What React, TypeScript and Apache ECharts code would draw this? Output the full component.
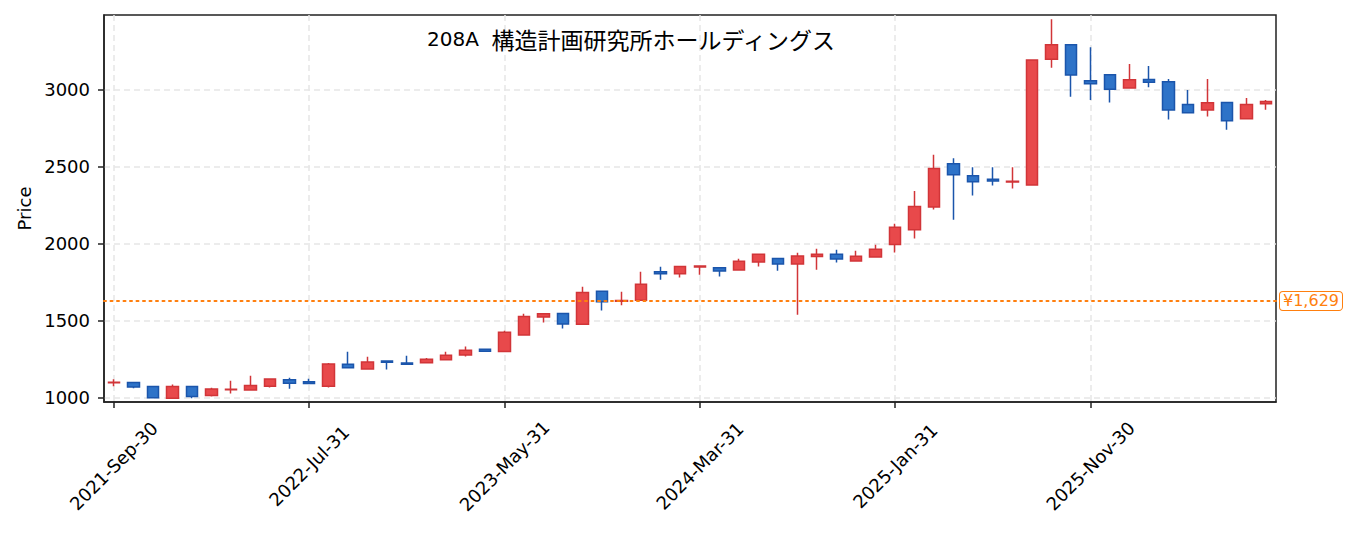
import React, { useEffect, useRef } from "react";
import * as echarts from "echarts";

const categories = [
  "2021-Sep-30", "2021-Oct-31", "2021-Nov-30", "2021-Dec-31",
  "2022-Jan-31", "2022-Feb-28", "2022-Mar-31", "2022-Apr-30", "2022-May-31", "2022-Jun-30",
  "2022-Jul-31", "2022-Aug-31", "2022-Sep-30", "2022-Oct-31", "2022-Nov-30", "2022-Dec-31",
  "2023-Jan-31", "2023-Feb-28", "2023-Mar-31", "2023-Apr-30", "2023-May-31", "2023-Jun-30",
  "2023-Jul-31", "2023-Aug-31", "2023-Sep-30", "2023-Oct-31", "2023-Nov-30", "2023-Dec-31",
  "2024-Jan-31", "2024-Feb-29", "2024-Mar-31", "2024-Apr-30", "2024-May-31", "2024-Jun-30",
  "2024-Jul-31", "2024-Aug-31", "2024-Sep-30", "2024-Oct-31", "2024-Nov-30", "2024-Dec-31",
  "2025-Jan-31", "2025-Feb-28", "2025-Mar-31", "2025-Apr-30", "2025-May-31", "2025-Jun-30",
  "2025-Jul-31", "2025-Aug-31", "2025-Sep-30", "2025-Oct-31", "2025-Nov-30", "2025-Dec-31",
  "2026-Jan-31", "2026-Feb-28", "2026-Mar-31", "2026-Apr-30", "2026-May-31", "2026-Jun-30",
  "2026-Jul-31", "2026-Aug-31",
];

const opens = [
  1097, 1098, 1073, 996, 1073, 1015, 1052, 1050, 1075, 1116,
  1103, 1075, 1217, 1187, 1238, 1225, 1227, 1247, 1277, 1314,
  1300, 1408, 1525, 1547, 1478, 1692, 1626, 1634, 1819, 1806,
  1850, 1845, 1830, 1882, 1904, 1869, 1917, 1932, 1889, 1914,
  1995, 2091, 2240, 2521, 2443, 2419, 2402, 2383, 3199, 3294,
  3060, 3099, 3013, 3068, 3054, 2905, 2870, 2918, 2812, 2910,
];
const closes = [
  1100, 1070, 1000, 1073, 1008, 1056, 1055, 1080, 1121, 1094,
  1092, 1219, 1195, 1232, 1230, 1218, 1250, 1276, 1309, 1301,
  1426, 1527, 1546, 1479, 1683, 1624, 1632, 1738, 1806, 1852,
  1856, 1824, 1887, 1932, 1869, 1920, 1932, 1902, 1919, 1964,
  2107, 2242, 2489, 2449, 2404, 2408, 2406, 3195, 3294, 3097,
  3040, 3005, 3067, 3050, 2870, 2852, 2917, 2799, 2905, 2925,
];
const lows = [
  1075, 1062, 998, 995, 996, 1008, 1028, 1050, 1066, 1058,
  1090, 1066, 1193, 1186, 1184, 1216, 1225, 1245, 1268, 1299,
  1298, 1405, 1489, 1450, 1477, 1567, 1600, 1633, 1766, 1781,
  1799, 1788, 1829, 1853, 1825, 1539, 1831, 1879, 1888, 1913,
  1944, 2034, 2223, 2156, 2314, 2379, 2359, 2381, 3145, 2956,
  2935, 2918, 3012, 3017, 2808, 2850, 2828, 2742, 2811, 2872,
];
const highs = [
  1120, 1100, 1075, 1085, 1075, 1065, 1110, 1143, 1122, 1130,
  1123, 1225, 1299, 1266, 1240, 1273, 1258, 1299, 1333, 1316,
  1435, 1545, 1548, 1548, 1721, 1694, 1688, 1818, 1851, 1854,
  1857, 1846, 1903, 1933, 1905, 1942, 1968, 1961, 1955, 1994,
  2130, 2344, 2578, 2556, 2498, 2498, 2498, 3197, 3459, 3296,
  3277, 3100, 3169, 3156, 3071, 3000, 3071, 2919, 2948, 2935,
];

const yTicks = [1000, 1500, 2000, 2500, 3000];
const referencePrice = 1629;
const referenceLabel = "¥1,629";
const titleCode = "208A";
const titleName = "構造計画研究所ホールディングス";

const FONT = "'DejaVu Sans', 'Noto Sans CJK JP', sans-serif";
const CJK = "'Noto Sans CJK JP', sans-serif";

export default function App() {
  const ref = useRef<HTMLDivElement>(null);

  useEffect(() => {
    if (!ref.current) return;
    const chart = echarts.init(ref.current, undefined, { renderer: "svg" });
    const data = opens.map((o, i) => [o, closes[i], lows[i], highs[i]]);
    const option = {
      animation: false,
      backgroundColor: "#ffffff",
      title: {
        text: `{a|${titleCode}  }{b|${titleName}}`,
        left: 427,
        top: 27,
        padding: 0,
        textStyle: {
          fontFamily: FONT,
          fontSize: 20,
          fontWeight: "normal",
          color: "#000000",
          rich: {
            a: { fontFamily: FONT, fontSize: 20, color: "#000000" },
            b: { fontFamily: CJK, fontSize: 23, color: "#000000" },
          },
        },
      },
      grid: {
        left: 104,
        right: 79,
        top: 15,
        bottom: 131,
        show: true,
        borderColor: "#222222",
        borderWidth: 1.5,
        backgroundColor: "transparent",
      },
      xAxis: {
        type: "category",
        data: categories,
        boundaryGap: true,
        axisLine: { show: true, lineStyle: { color: "#222222", width: 1.5 } },
        axisTick: {
          show: true,
          interval: 9,
          alignWithLabel: true,
          length: 6,
          lineStyle: { color: "#222222", width: 1.5 },
        },
        axisLabel: {
          interval: 9,
          rotate: 45,
          align: "center",
          verticalAlign: "middle",
          margin: 64,
          fontFamily: FONT,
          fontSize: 18,
          color: "#000000",
        },
        splitLine: {
          show: true,
          interval: 9,
          alignWithLabel: true,
          lineStyle: { color: "#e6e6e6", type: [6, 4], width: 1.5 },
        },
      },
      yAxis: {
        type: "value",
        min: 972,
        max: 3487,
        name: "Price",
        nameLocation: "middle",
        nameRotate: 90,
        nameGap: 63,
        nameTextStyle: { fontFamily: FONT, fontSize: 18, color: "#000000" },
        axisLine: { show: true, lineStyle: { color: "#222222", width: 1.5 } },
        axisTick: {
          show: true,
          length: 6,
          customValues: yTicks,
          lineStyle: { color: "#222222", width: 1.5 },
        },
        axisLabel: {
          customValues: yTicks,
          margin: 14,
          formatter: (v: number) => String(v),
          fontFamily: FONT,
          fontSize: 18,
          color: "#000000",
        },
        splitLine: {
          show: true,
          lineStyle: { color: "#e6e6e6", type: [6, 4], width: 1.5 },
        },
      },
      series: [
        {
          type: "candlestick",
          data,
          barWidth: 12,
          itemStyle: {
            color: "#e8494b",
            color0: "#2e73c8",
            borderColor: "#d13538",
            borderColor0: "#1b55ab",
            borderWidth: 1.5,
          },
          markLine: {
            silent: true,
            symbol: ["none", "none"],
            data: [{ yAxis: referencePrice }],
            lineStyle: { color: "#ff7f0e", type: [2, 4.5], width: 2, cap: "round" },
            label: {
              show: true,
              position: "end",
              distance: 4,
              formatter: referenceLabel,
              fontFamily: FONT,
              fontSize: 16,
              color: "#ff7f0e",
              backgroundColor: "#ffffff",
              borderColor: "#ff7f0e",
              borderWidth: 1,
              borderRadius: 3,
              padding: [1, 3],
            },
          },
        },
      ],
    };
    chart.setOption(option as any);
    return () => chart.dispose();
  }, []);

  return (
    <div
      ref={ref}
      style={{ position: "absolute", left: 0, top: 0, width: 1355, height: 533 }}
    />
  );
}
